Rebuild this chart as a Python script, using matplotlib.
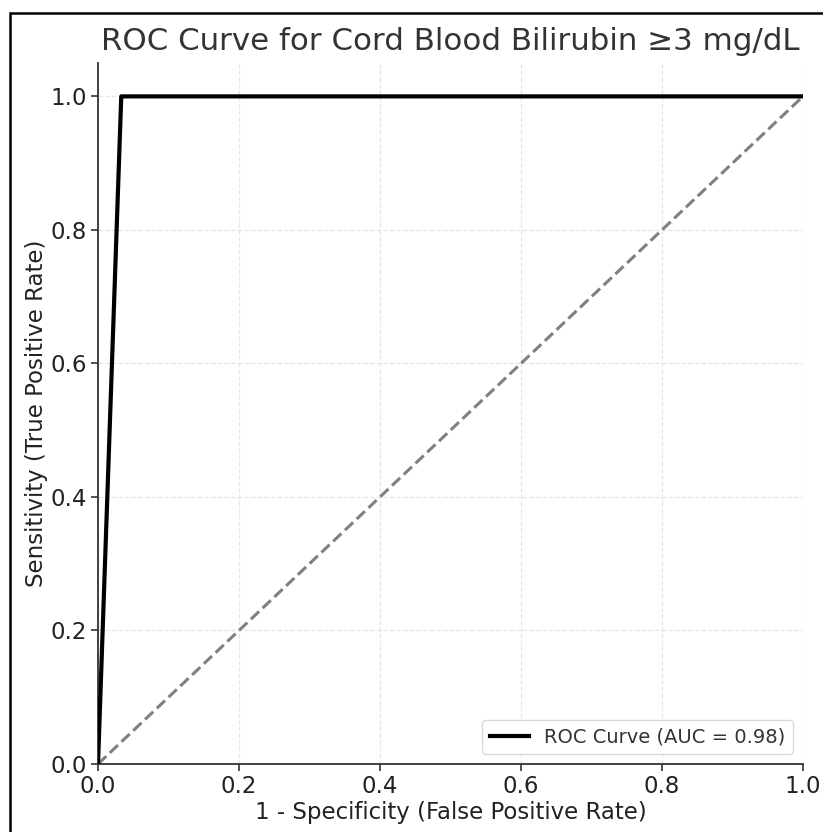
import matplotlib
matplotlib.use("Agg")
import matplotlib.pyplot as plt
from matplotlib.patches import Rectangle

fpr = [0.0, 0.033, 1.0]
tpr = [0.0, 1.0, 1.0]
diag = [0.0, 1.0]
xticks = [0.0, 0.2, 0.4, 0.6, 0.8, 1.0]
yticks = [0.0, 0.2, 0.4, 0.6, 0.8, 1.0]
auc_label = "ROC Curve (AUC = 0.98)"

W, H = 823, 832
fig = plt.figure(figsize=(W/100, H/100), dpi=100)
ax = fig.add_axes([98/W, 1-764/H, (803-98)/W, (764-63)/H])

ax.plot(fpr, tpr, color='black', lw=3.0, label=auc_label, zorder=3)
ax.plot(diag, diag, color='gray', lw=2.2, ls='--', zorder=2)

ax.set_xlim(0, 1)
ax.set_ylim(0, 1.05)
ax.set_xticks(xticks)
ax.set_yticks(yticks)
ax.grid(True, ls='--', color='#e6e6e6', lw=0.9)
for s in ['top', 'right']:
    ax.spines[s].set_visible(False)
for s in ['left', 'bottom']:
    ax.spines[s].set_color('#333333')
    ax.spines[s].set_linewidth(1.3)
ax.tick_params(labelsize=16.5, colors='#333333', length=5, width=1.2, labelcolor='#222222', pad=3)
ax.set_xlabel("1 - Specificity (False Positive Rate)", fontsize=16.5, color='#222222', labelpad=2)
ax.set_ylabel("Sensitivity (True Positive Rate)", fontsize=16.5, color='#222222', labelpad=2)
ax.set_title("ROC Curve for Cord Blood Bilirubin \u22653 mg/dL", fontsize=22.2, color='#333333', pad=9)
leg = ax.legend(loc='lower right', fontsize=14, framealpha=1, edgecolor='#d9d9d9', borderaxespad=0.5)
for t in leg.get_texts():
    t.set_color('#333333')

fig.patches.append(Rectangle((10/W, -0.1), 1.2, (1-13/H)+0.1, transform=fig.transFigure,
                             fill=False, edgecolor='black', lw=1.8, figure=fig))
fig.savefig("out.png", dpi=100)
